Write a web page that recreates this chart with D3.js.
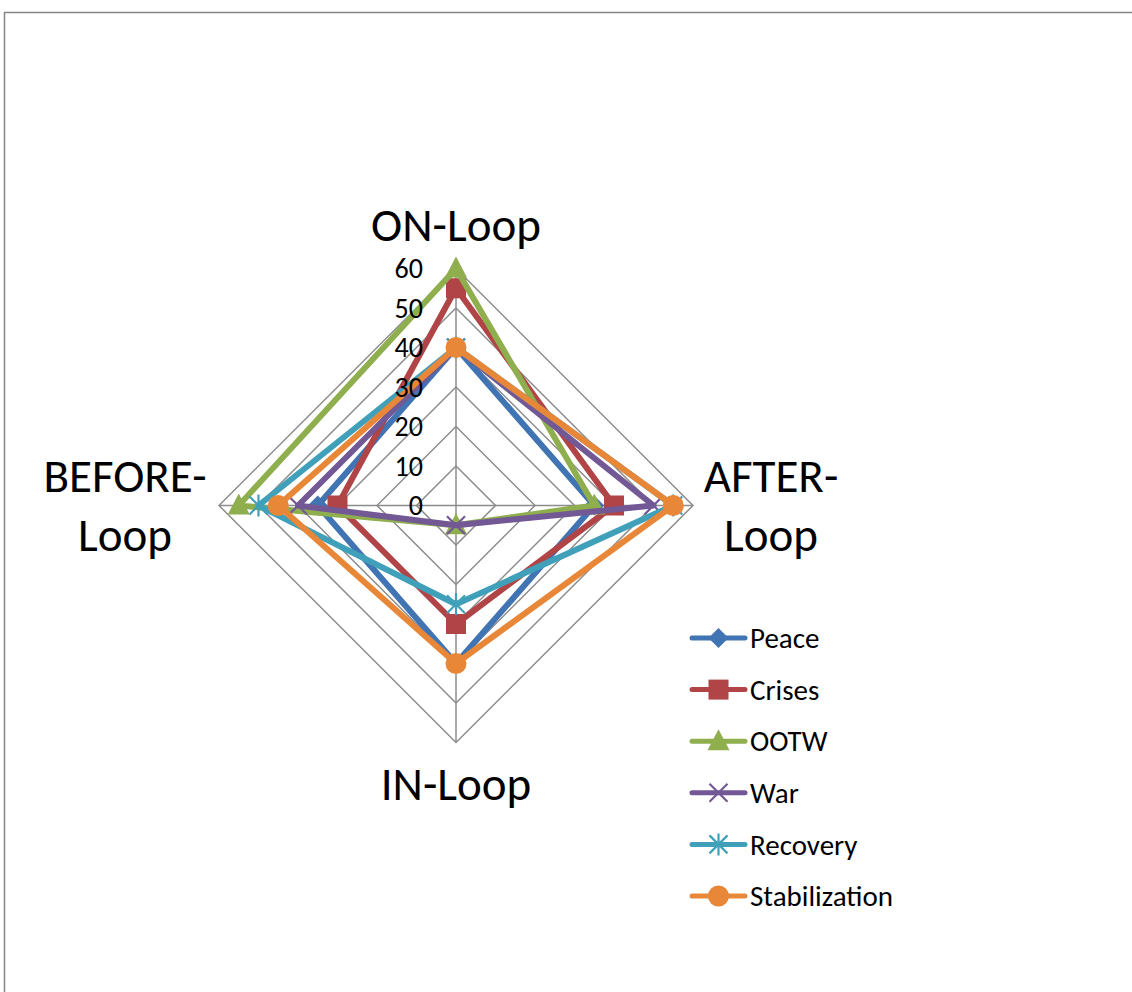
<!DOCTYPE html>
<html><head><meta charset="utf-8">
<script src="https://cdn.jsdelivr.net/npm/d3@7"></script>
<style>body{margin:0;background:#fff;}svg{display:block;}</style>
</head><body>
<svg id="c" width="1132" height="992"></svg>
<script>
const axes = ["ON-Loop", "AFTER-Loop", "IN-Loop", "BEFORE-Loop"];
const axisLabelLines = [["ON-Loop"], ["AFTER-", "Loop"], ["IN-Loop"], ["BEFORE-", "Loop"]];
const seriesNames = ["Peace", "Crises", "OOTW", "War", "Recovery", "Stabilization"];
const peace = [40, 35, 40, 35];
const crises = [55, 40, 30, 30];
const ootw = [60, 35, 5, 55];
const war = [40, 50, 5, 40];
const recovery = [40, 55, 25, 50];
const stabilization = [40, 55, 40, 45];
const ticks = [0, 10, 20, 30, 40, 50, 60];
const colors = ["#4174b2", "#b04446", "#8fae4e", "#735896", "#40a0ba", "#e98738"];
const markers = ["diamond", "square", "triangle", "x", "asterisk", "circle"];
const values = [peace, crises, ootw, war, recovery, stabilization];

const svg = d3.select("#c");
const font = "Calibri, Carlito, 'Open Sans', 'Noto Sans', sans-serif";
svg.append("rect").attr("x", 4.5).attr("y", 12.5).attr("width", 1200).attr("height", 1100)
  .attr("fill", "none").attr("stroke", "#868686").attr("stroke-width", 1.5);

const cx = 456, cy = 505.5;
const r = d3.scaleLinear().domain([0, 60]).range([0, 237]);
const angle = d3.scalePoint().domain(axes).range([0, 2 * Math.PI * 3 / 4]);
const pt = (a, v) => { const t = angle(a); return [cx + r(v) * Math.sin(t), cy - r(v) * Math.cos(t)]; };

const g = svg.append("g");
// grid rings
ticks.slice(1).forEach(t => {
  g.append("path").attr("d", d3.line()(axes.map(a => pt(a, t))) + "Z")
    .attr("fill", "none").attr("stroke", "#8c8c8c").attr("stroke-width", 1.5);
});
// spokes
axes.forEach(a => {
  const p = pt(a, 60);
  g.append("line").attr("x1", cx).attr("y1", cy).attr("x2", p[0]).attr("y2", p[1])
    .attr("stroke", "#8c8c8c").attr("stroke-width", 1.5);
});
// axis labels
const labelPos = [[456, 241], [771, 492], [456, 800], [125, 492]];
axisLabelLines.forEach((lines, i) => {
  lines.forEach((ln, j) => {
    g.append("text").attr("x", labelPos[i][0]).attr("y", labelPos[i][1] + j * 59)
      .attr("text-anchor", "middle").attr("font-family", font).attr("font-size", 47).attr("fill", "#000").text(ln);
  });
});

function drawMarker(sel, type, x, y, color) {
  if (type === "diamond") {
    sel.append("path").attr("d", `M${x},${y-10}L${x+10},${y}L${x},${y+10}L${x-10},${y}Z`).attr("fill", color);
  } else if (type === "square") {
    sel.append("rect").attr("x", x - 10).attr("y", y - 10).attr("width", 20).attr("height", 20).attr("fill", color);
  } else if (type === "triangle") {
    sel.append("path").attr("d", `M${x},${y-12}L${x+11},${y+9}L${x-11},${y+9}Z`).attr("fill", color);
  } else if (type === "x") {
    sel.append("path").attr("d", `M${x-9},${y-9}L${x+9},${y+9}M${x-9},${y+9}L${x+9},${y-9}`).attr("stroke", color).attr("stroke-width", 2.2);
  } else if (type === "asterisk") {
    sel.append("path").attr("d", `M${x-9},${y-9}L${x+9},${y+9}M${x-9},${y+9}L${x+9},${y-9}M${x},${y-11}L${x},${y+11}`).attr("stroke", color).attr("stroke-width", 2.2);
  } else if (type === "circle") {
    sel.append("circle").attr("cx", x).attr("cy", y).attr("r", 10.5).attr("fill", color);
  }
}

values.forEach((vals, i) => {
  const pts = axes.map((a, k) => pt(a, vals[k]));
  const sg = g.append("g");
  sg.append("path").attr("d", d3.line()(pts) + "Z").attr("fill", "none")
    .attr("stroke", colors[i]).attr("stroke-width", 6).attr("stroke-linejoin", "round");
  pts.forEach(p => drawMarker(sg, markers[i], p[0], p[1], colors[i]));
});

// tick labels (drawn over series, like the reference)
ticks.forEach(t => {
  g.append("text").attr("x", cx - 33).attr("y", cy - r(t)).attr("dy", "0.35em")
    .attr("text-anchor", "end").attr("font-family", font).attr("font-size", 28).attr("fill", "#000").text(t);
});

// legend
const lg = svg.append("g");
seriesNames.forEach((n, i) => {
  const y = 638 + i * 51.6;
  lg.append("line").attr("x1", 692).attr("x2", 745).attr("y1", y).attr("y2", y)
    .attr("stroke", colors[i]).attr("stroke-width", 5).attr("stroke-linecap", "round");
  drawMarker(lg, markers[i], 718.5, y, colors[i]);
  lg.append("text").attr("x", 750).attr("y", y).attr("dy", "0.35em")
    .attr("font-family", font).attr("font-size", 29).attr("fill", "#000").text(n);
});
</script>
</body></html>
